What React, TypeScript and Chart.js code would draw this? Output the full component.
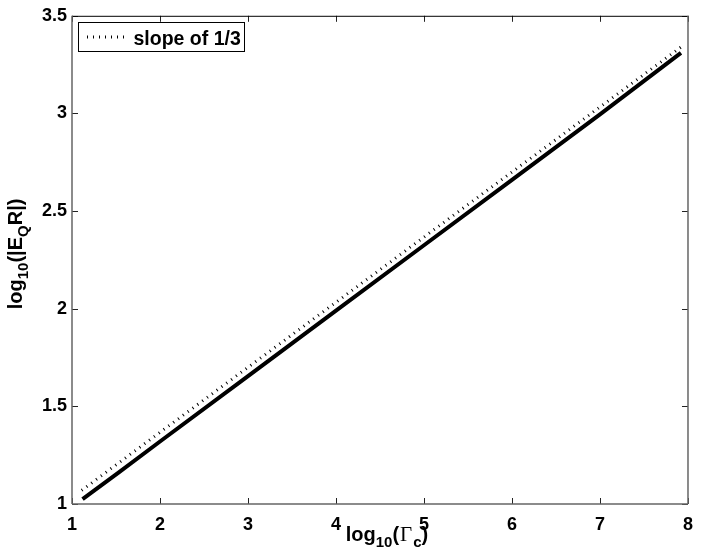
import React, { useEffect, useRef } from "react";
import { Chart, registerables } from "chart.js";

Chart.register(...registerables);

const solidX = [1.12, 1.54, 2, 3, 4, 5, 6, 7, 7.92];
const solidY = [1.025, 1.165, 1.32, 1.655, 1.99, 2.325, 2.66, 2.995, 3.31];
const slopeX = [1.11, 2, 3, 4, 5, 6, 7, 7.93];
const slopeY = [1.07, 1.367, 1.7, 2.033, 2.367, 2.7, 3.033, 3.343];
const slopeLabel = "slope of 1/3";
const xTicks = [1, 2, 3, 4, 5, 6, 7, 8];
const yTicks = [1, 1.5, 2, 2.5, 3, 3.5];

const FONT = "Liberation Sans, Arial, Helvetica, sans-serif";
const SERIF = "Liberation Serif, Times New Roman, serif";

type Seg = { t: string; sub?: boolean; serif?: boolean };

function segFont(s: Seg) {
  if (s.serif) return `21px ${SERIF}`;
  return s.sub ? `bold 15px ${FONT}` : `bold 20px ${FONT}`;
}

function drawRich(ctx: CanvasRenderingContext2D, segs: Seg[], cx: number, baseY: number) {
  let total = 0;
  for (const s of segs) {
    ctx.font = segFont(s);
    total += ctx.measureText(s.t).width + (s.serif ? 2 : 0);
  }
  let x = cx - total / 2;
  ctx.textAlign = "left";
  ctx.textBaseline = "alphabetic";
  for (const s of segs) {
    ctx.font = segFont(s);
    ctx.fillText(s.t, x + (s.serif ? 1 : 0), baseY + (s.sub ? 6 : 0));
    x += ctx.measureText(s.t).width + (s.serif ? 2 : 0);
  }
}

const framePlugin = {
  id: "frame",
  afterDraw(chart: any) {
    const ctx: CanvasRenderingContext2D = chart.ctx;
    const { left, right, top, bottom } = chart.chartArea;
    const xs = chart.scales.x;
    const ys = chart.scales.y;
    ctx.save();
    // ticks inward
    ctx.strokeStyle = "#222";
    ctx.lineWidth = 1;
    ctx.beginPath();
    for (const v of xTicks) {
      const px = Math.round(xs.getPixelForValue(v)) + 0.5;
      ctx.moveTo(px, bottom);
      ctx.lineTo(px, bottom - 6);
      ctx.moveTo(px, top);
      ctx.lineTo(px, top + 6);
    }
    for (const v of yTicks) {
      const py = Math.round(ys.getPixelForValue(v)) + 0.5;
      ctx.moveTo(left, py);
      ctx.lineTo(left + 6, py);
      ctx.moveTo(right, py);
      ctx.lineTo(right - 6, py);
    }
    ctx.stroke();
    // box
    ctx.strokeStyle = "#000";
    ctx.lineWidth = 1;
    ctx.beginPath();
    ctx.moveTo(left, top + 0.5);
    ctx.lineTo(right, top + 0.5);
    ctx.stroke();
    ctx.strokeStyle = "#666";
    ctx.lineWidth = 1.5;
    ctx.beginPath();
    ctx.moveTo(left, bottom);
    ctx.lineTo(right, bottom);
    ctx.moveTo(left, top);
    ctx.lineTo(left, bottom);
    ctx.moveTo(right, top);
    ctx.lineTo(right, bottom);
    ctx.stroke();

    // legend
    ctx.fillStyle = "#fff";
    ctx.fillRect(78.5, 22.5, 166, 29);
    ctx.strokeStyle = "#000";
    ctx.lineWidth = 1;
    ctx.strokeRect(78.5, 22.5, 166, 29);
    ctx.strokeStyle = "#000";
    ctx.lineWidth = 3;
    ctx.lineCap = "butt";
    ctx.setLineDash([1, 5]);
    ctx.beginPath();
    ctx.moveTo(87, 37);
    ctx.lineTo(127, 37);
    ctx.stroke();
    ctx.setLineDash([]);
    ctx.fillStyle = "#000";
    ctx.font = `bold 19.5px ${FONT}`;
    ctx.textAlign = "left";
    ctx.textBaseline = "alphabetic";
    ctx.fillText(slopeLabel, 133.5, 44.5);

    // axis titles
    ctx.fillStyle = "#000";
    drawRich(
      ctx,
      [{ t: "log" }, { t: "10", sub: true }, { t: "(" }, { t: "Γ", serif: true }, { t: "c", sub: true }, { t: ")" }],
      387,
      541
    );
    ctx.save();
    ctx.translate(22, (top + bottom) / 2 - 6);
    ctx.rotate(-Math.PI / 2);
    drawRich(
      ctx,
      [{ t: "log" }, { t: "10", sub: true }, { t: "(|E" }, { t: "Q", sub: true }, { t: "R|)" }],
      0,
      0
    );
    ctx.restore();
    ctx.restore();
  },
};

export default function App() {
  const ref = useRef<HTMLCanvasElement | null>(null);
  useEffect(() => {
    if (!ref.current) return;
    const chart = new Chart(ref.current, {
      type: "line",
      data: {
        datasets: [
          {
            label: "data",
            data: solidX.map((x, i) => ({ x, y: solidY[i] })),
            borderColor: "#000",
            borderWidth: 4,
            pointRadius: 0,
            fill: false,
            tension: 0,
          },
          {
            label: slopeLabel,
            data: slopeX.map((x, i) => ({ x, y: slopeY[i] })),
            borderColor: "#000",
            borderWidth: 3,
            borderDash: [1, 5],
            borderCapStyle: "butt",
            pointRadius: 0,
            fill: false,
            tension: 0,
          },
        ],
      },
      options: {
        responsive: false,
        animation: false,
        layout: { padding: { top: 15, right: 11, left: 0, bottom: 0 } },
        plugins: { legend: { display: false }, tooltip: { enabled: false }, title: { display: false } },
        scales: {
          x: {
            type: "linear",
            min: 1,
            max: 8,
            afterFit: (s: any) => {
              s.height = 56;
            },
            afterBuildTicks: (s: any) => {
              s.ticks = xTicks.map((v) => ({ value: v }));
            },
            grid: { display: false, drawTicks: false },
            border: { display: false },
            ticks: {
              color: "#000",
              font: { family: FONT, size: 18, weight: "bold" },
              padding: 10,
              maxRotation: 0,
              autoSkip: false,
            },
          },
          y: {
            type: "linear",
            min: 1,
            max: 3.5,
            afterFit: (s: any) => {
              s.width = 72;
            },
            afterBuildTicks: (s: any) => {
              s.ticks = yTicks.map((v) => ({ value: v }));
            },
            grid: { display: false, drawTicks: false },
            border: { display: false },
            ticks: {
              color: "#000",
              font: { family: FONT, size: 18, weight: "bold" },
              padding: 5,
              autoSkip: false,
              callback: (v: any) => String(v),
            },
          },
        },
      } as any,
      plugins: [framePlugin],
    });
    return () => chart.destroy();
  }, []);
  return (
    <div style={{ position: "fixed", left: 0, top: 0, width: 703, height: 560, background: "#fff" }}>
      <canvas ref={ref} width={703} height={560} style={{ display: "block" }} />
    </div>
  );
}
